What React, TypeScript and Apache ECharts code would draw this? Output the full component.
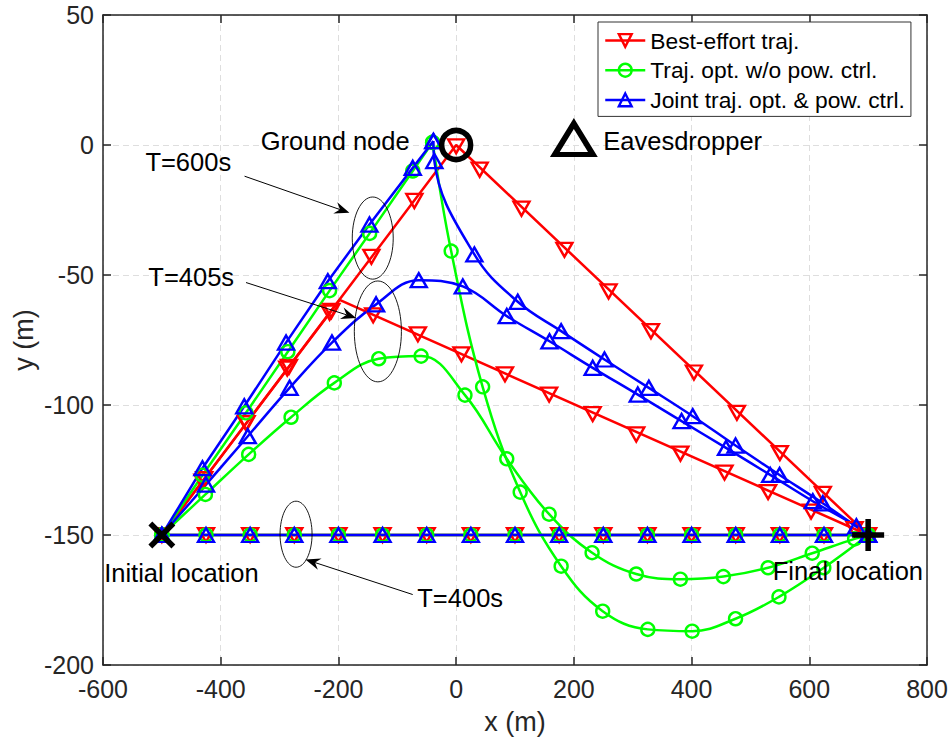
import React, { useEffect, useRef } from "react";
import * as echarts from "echarts";

type Pt = [number, number];

// ---------- axes ----------
const X_MIN = -600, X_MAX = 800, X_STEP = 200;
const Y_MIN = -200, Y_MAX = 50, Y_STEP = 50;

const NAME_BE = "Best-effort traj.";
const NAME_NP = "Traj. opt. w/o pow. ctrl.";
const NAME_JT = "Joint traj. opt. & pow. ctrl.";

// ---------- data ----------
// T = 400 s : all three schemes fly the straight line
const straight400: Pt[] = [
  [-500, -150], [-425, -150], [-350, -150], [-275, -150], [-200, -150], [-125, -150],
  [-50, -150], [25, -150], [100, -150], [175, -150], [250, -150], [325, -150],
  [400, -150], [475, -150], [550, -150], [625, -150], [700, -150],
];

// Best-effort, T = 405 s
const bestEffort405Path: Pt[] = [[-500, -150], [-198, -59.6], [700, -150]];
const bestEffort405Marks: Pt[] = [
  [-428, -128.5], [-356, -107], [-284, -85.3], [-212, -63.8], [-141, -65.5], [-65, -72.8],
  [9, -80.5], [83, -88.2], [158, -96], [232, -103.5], [306, -111.3], [381, -118.7],
  [456, -126], [530, -133.5], [603, -141], [677, -147.7],
];
// Best-effort, T = 600 s
const bestEffort600Path: Pt[] = [[-500, -150], [0, 0], [700, -150]];
const bestEffort600Marks: Pt[] = [
  [-431, -129.5], [-357, -107], [-287, -86], [-215, -64.5], [-144, -43], [-71, -21.5],
  [0, -0.5], [40, -9.5], [111, -24.5], [184, -40.3], [259, -56.3], [331, -71.6],
  [404, -87.5], [477, -103], [550, -118.5], [623, -134.2],
];

// Traj. opt. w/o power control
const noPow405: Pt[] = [
  [-500, -150], [-426, -134.4], [-352.5, -119], [-280.5, -104.7], [-207, -91.5],
  [-131.5, -82.2], [-59.5, -81.2], [15, -96.2], [86, -120.7], [158, -142], [231, -156.8],
  [306, -165], [381, -167], [454, -166], [530, -162.6], [605, -157], [677, -151.5], [700, -150],
];
const noPow600Climb: Pt[] = [
  [-500, -150], [-431, -127], [-357, -103], [-286, -79.5], [-215, -56], [-147, -34],
  [-73.7, -10], [-40, 1],
];
const noPow600Descent: Pt[] = [
  [-40, 1], [-8.5, -40.8], [45, -93], [108.8, -133.5], [178.4, -162], [249, -179.3],
  [325.6, -186.3], [401, -187], [474.7, -182.2], [548.5, -173.8], [624.7, -162.6], [700, -150],
];

// Joint traj. opt. & power control
const joint405: Pt[] = [
  [-500, -150], [-425, -130.6], [-354, -112], [-283, -93.4], [-211, -76], [-136, -61.3],
  [-63.5, -52], [11.3, -54.4], [86, -65.8], [158.6, -75.5], [232, -85.7], [308.6, -96],
  [383, -106.2], [458.5, -116.5], [533.6, -126.9], [606, -137], [680, -146.6], [700, -150],
];
const joint600Climb: Pt[] = [
  [-500, -150], [-431, -124.3], [-360, -100.5], [-289, -76], [-218, -52.4], [-147.3, -30.6],
  [-73.7, -8.8], [-38.6, 1.5],
];
const joint600Descent: Pt[] = [
  [-38.6, 1.5], [-37, -6.2], [31, -42.1], [104.7, -60.3], [178.4, -71.6], [252, -82.5],
  [327.4, -93.4], [402, -104.3], [474.7, -115.6], [549.5, -126.9], [623, -137.8], [700, -150],
];

// Special locations
const groundNode: Pt[] = [[0, 0]];
const eavesdropper: Pt[] = [[200, 0]];
const initialLocation: Pt[] = [[-500, -150]];
const finalLocation: Pt[] = [[700, -150]];

// ---------- annotations (data coordinates) ----------
const annoTexts: { text: string; at: Pt; align: string }[] = [
  { text: "Ground node", at: [-79, 1.5], align: "right" },
  { text: "Eavesdropper", at: [250, 1.5], align: "left" },
  { text: "Initial location", at: [-598, -164.5], align: "left" },
  { text: "Final location", at: [538, -164], align: "left" },
  { text: "T=600s", at: [-528, -6.7], align: "left" },
  { text: "T=405s", at: [-523, -50.6], align: "left" },
  { text: "T=400s", at: [-66, -174.4], align: "left" },
];
const annoEllipses: { c: Pt; rx: number; ry: number }[] = [
  { c: [-141.7, -35.8], rx: 34.8, ry: 15.8 },
  { c: [-133, -71.7], rx: 40, ry: 19.4 },
  { c: [-272, -149.7], rx: 27.2, ry: 12.7 },
];
const annoArrows: { from: Pt; to: Pt }[] = [
  { from: [-359.5, -12], to: [-181.3, -26.1] },
  { from: [-357, -52.9], to: [-170, -66.5] },
  { from: [-73.8, -172.9], to: [-256, -159.4] },
];

// ---------- styles ----------
const RED = "#ff0000";
const GREEN = "#00ff00";
const BLUE = "#0000ff";
const AX = "#262626";
const FONT = '"Liberation Sans", Arial, Helvetica, sans-serif';
const CLEAR = "rgba(0,0,0,0)";
const LW = 2.5;
const MW = 2.4;

const SYM = {
  red: { symbol: "triangle", symbolSize: [16, 14], symbolRotate: 180, color: RED },
  green: { symbol: "circle", symbolSize: 13, symbolRotate: 0, color: GREEN },
  blue: { symbol: "triangle", symbolSize: [16, 14], symbolRotate: 0, color: BLUE },
};

function traj(name: string, data: Pt[], s: any, smooth: number | boolean, withMarks = true) {
  return {
    type: "line",
    name,
    data,
    smooth,
    symbol: withMarks ? s.symbol : "none",
    symbolSize: s.symbolSize,
    symbolRotate: s.symbolRotate,
    showSymbol: withMarks,
    lineStyle: { color: s.color, width: LW, opacity: 1 },
    itemStyle: { color: CLEAR, borderColor: s.color, borderWidth: MW, opacity: 1 },
    silent: true,
    z: 2,
  };
}
function marks(name: string, data: Pt[], s: any) {
  return {
    type: "scatter",
    name,
    data,
    symbol: s.symbol,
    symbolSize: s.symbolSize,
    symbolRotate: s.symbolRotate,
    itemStyle: { color: CLEAR, borderColor: s.color, borderWidth: MW, opacity: 1 },
    silent: true,
    z: 2,
  };
}
function blackMark(name: string, data: Pt[], symbol: string, size: any, bw: number, offset: number[] = [0, 0]) {
  return {
    type: "scatter",
    name,
    data,
    symbol,
    symbolSize: size,
    symbolOffset: offset,
    itemStyle: { color: CLEAR, borderColor: "#000", borderWidth: bw, opacity: 1 },
    silent: true,
    z: 5,
  };
}

const baseAxis = {
  type: "value",
  axisLine: { show: true, onZero: false, lineStyle: { color: AX, width: 1.5 } },
  axisTick: { show: true, inside: true, length: 8, lineStyle: { color: AX, width: 1.5 } },
};

export default function App() {
  const ref = useRef<HTMLDivElement>(null);
  useEffect(() => {
    if (!ref.current) return;
    const chart = echarts.init(ref.current, null, { renderer: "svg" });
    const option: any = {
      animation: false,
      backgroundColor: "#fff",
      textStyle: { fontFamily: FONT },
      grid: { left: 103, top: 15, width: 824, height: 650, outerBoundsMode: "none" },
      xAxis: [
        {
          ...baseAxis,
          position: "bottom",
          min: X_MIN, max: X_MAX, interval: X_STEP,
          axisLabel: { fontSize: 25, color: AX, margin: 11, fontFamily: FONT },
          splitLine: { show: true, lineStyle: { type: [6, 4], color: "#dedede", width: 1 } },
          name: "x (m)", nameLocation: "middle", nameGap: 43, nameMoveOverlap: false,
          nameTextStyle: { fontSize: 27, color: AX, fontFamily: FONT },
        },
        {
          ...baseAxis,
          position: "top",
          min: X_MIN, max: X_MAX, interval: X_STEP,
          axisLabel: { show: false },
          splitLine: { show: false },
        },
      ],
      yAxis: [
        {
          ...baseAxis,
          position: "left",
          min: Y_MIN, max: Y_MAX, interval: Y_STEP,
          axisLabel: { fontSize: 25, color: AX, margin: 9, fontFamily: FONT },
          splitLine: { show: true, lineStyle: { type: [6, 4], color: "#dedede", width: 1 } },
          name: "y (m)", nameLocation: "middle", nameGap: 66, nameMoveOverlap: false,
          nameTextStyle: { fontSize: 27, color: AX, fontFamily: FONT },
        },
        {
          ...baseAxis,
          position: "right",
          min: Y_MIN, max: Y_MAX, interval: Y_STEP,
          axisLabel: { show: false },
          splitLine: { show: false },
        },
      ],
      legend: {
        show: true,
        orient: "vertical",
        left: 598,
        top: 22,
        itemWidth: 40,
        itemHeight: 16,
        itemGap: 6.7,
        padding: [7, 6, 5, 6],
        borderColor: "#333",
        borderWidth: 1,
        borderRadius: 0,
        backgroundColor: "#fff",
        selectedMode: false,
        textStyle: { fontSize: 22.8, color: "#000", fontFamily: FONT },
        data: [
          { name: NAME_BE, itemStyle: { color: CLEAR, borderColor: RED, borderWidth: MW }, lineStyle: { color: RED, width: LW } },
          { name: NAME_NP, itemStyle: { color: CLEAR, borderColor: GREEN, borderWidth: MW }, lineStyle: { color: GREEN, width: LW } },
          { name: NAME_JT, itemStyle: { color: CLEAR, borderColor: BLUE, borderWidth: MW }, lineStyle: { color: BLUE, width: LW } },
        ],
      },
      series: [
        traj(NAME_BE, straight400, SYM.red, false),
        traj(NAME_BE, bestEffort405Path, SYM.red, false, false),
        marks(NAME_BE, bestEffort405Marks, SYM.red),
        traj(NAME_BE, bestEffort600Path, SYM.red, false, false),
        marks(NAME_BE, bestEffort600Marks, SYM.red),

        traj(NAME_NP, straight400, SYM.green, false),
        traj(NAME_NP, noPow405, SYM.green, 0.4),
        traj(NAME_NP, noPow600Climb, SYM.green, false),
        traj(NAME_NP, noPow600Descent, SYM.green, 0.4),

        traj(NAME_JT, straight400, SYM.blue, false),
        traj(NAME_JT, joint405, SYM.blue, 0.4),
        traj(NAME_JT, joint600Climb, SYM.blue, false),
        traj(NAME_JT, joint600Descent, SYM.blue, 0.4),

        blackMark("Ground node", groundNode, "circle", 29, 5.5),
        blackMark("Eavesdropper", eavesdropper, "triangle", [38, 31], 5.5, [0, -6]),
        blackMark("Initial location", initialLocation, "path://M0 0L10 10M10 0L0 10", 23, 5.5),
        blackMark("Final location", finalLocation, "path://M5 0L5 10M0 5L10 5", 32, 5.5),
      ],
    };
    chart.setOption(option);

    const toPx = (p: Pt) => chart.convertToPixel({ xAxisIndex: 0, yAxisIndex: 0 }, p) as number[];
    const elements: any[] = [];
    annoEllipses.forEach((e) => {
      const c = toPx(e.c);
      const r = toPx([e.c[0] + e.rx, e.c[1] + e.ry]);
      elements.push({
        type: "ellipse",
        silent: true,
        shape: { cx: c[0], cy: c[1], rx: Math.abs(r[0] - c[0]), ry: Math.abs(r[1] - c[1]) },
        style: { fill: "none", stroke: "#000", lineWidth: 0.9 },
        z: 10,
      });
    });
    annoArrows.forEach((a) => {
      const s = toPx(a.from);
      const t = toPx(a.to);
      const dx = t[0] - s[0], dy = t[1] - s[1];
      const len = Math.hypot(dx, dy);
      const ux = dx / len, uy = dy / len;
      const nx = -uy, ny = ux;
      const L = 15, W = 6, N = 10;
      const base = [t[0] - L * ux, t[1] - L * uy];
      const notch = [t[0] - N * ux, t[1] - N * uy];
      elements.push({
        type: "line",
        silent: true,
        shape: { x1: s[0], y1: s[1], x2: notch[0], y2: notch[1] },
        style: { stroke: "#000", lineWidth: 1 },
        z: 10,
      });
      elements.push({
        type: "polygon",
        silent: true,
        shape: {
          points: [
            [t[0], t[1]],
            [base[0] + W * nx, base[1] + W * ny],
            [notch[0], notch[1]],
            [base[0] - W * nx, base[1] - W * ny],
          ],
        },
        style: { fill: "#000" },
        z: 10,
      });
    });
    annoTexts.forEach((a) => {
      const p = toPx(a.at);
      elements.push({
        type: "text",
        silent: true,
        x: p[0],
        y: p[1],
        style: {
          text: a.text,
          fill: "#000",
          font: `25.5px ${FONT}`,
          textAlign: a.align,
          align: a.align,
          textVerticalAlign: "middle",
          verticalAlign: "middle",
        },
        z: 10,
      });
    });
    chart.setOption({ graphic: { elements } });

    return () => chart.dispose();
  }, []);
  return (
    <div
      ref={ref}
      style={{ position: "absolute", left: 0, top: 0, width: 948, height: 740, background: "#fff" }}
    />
  );
}
